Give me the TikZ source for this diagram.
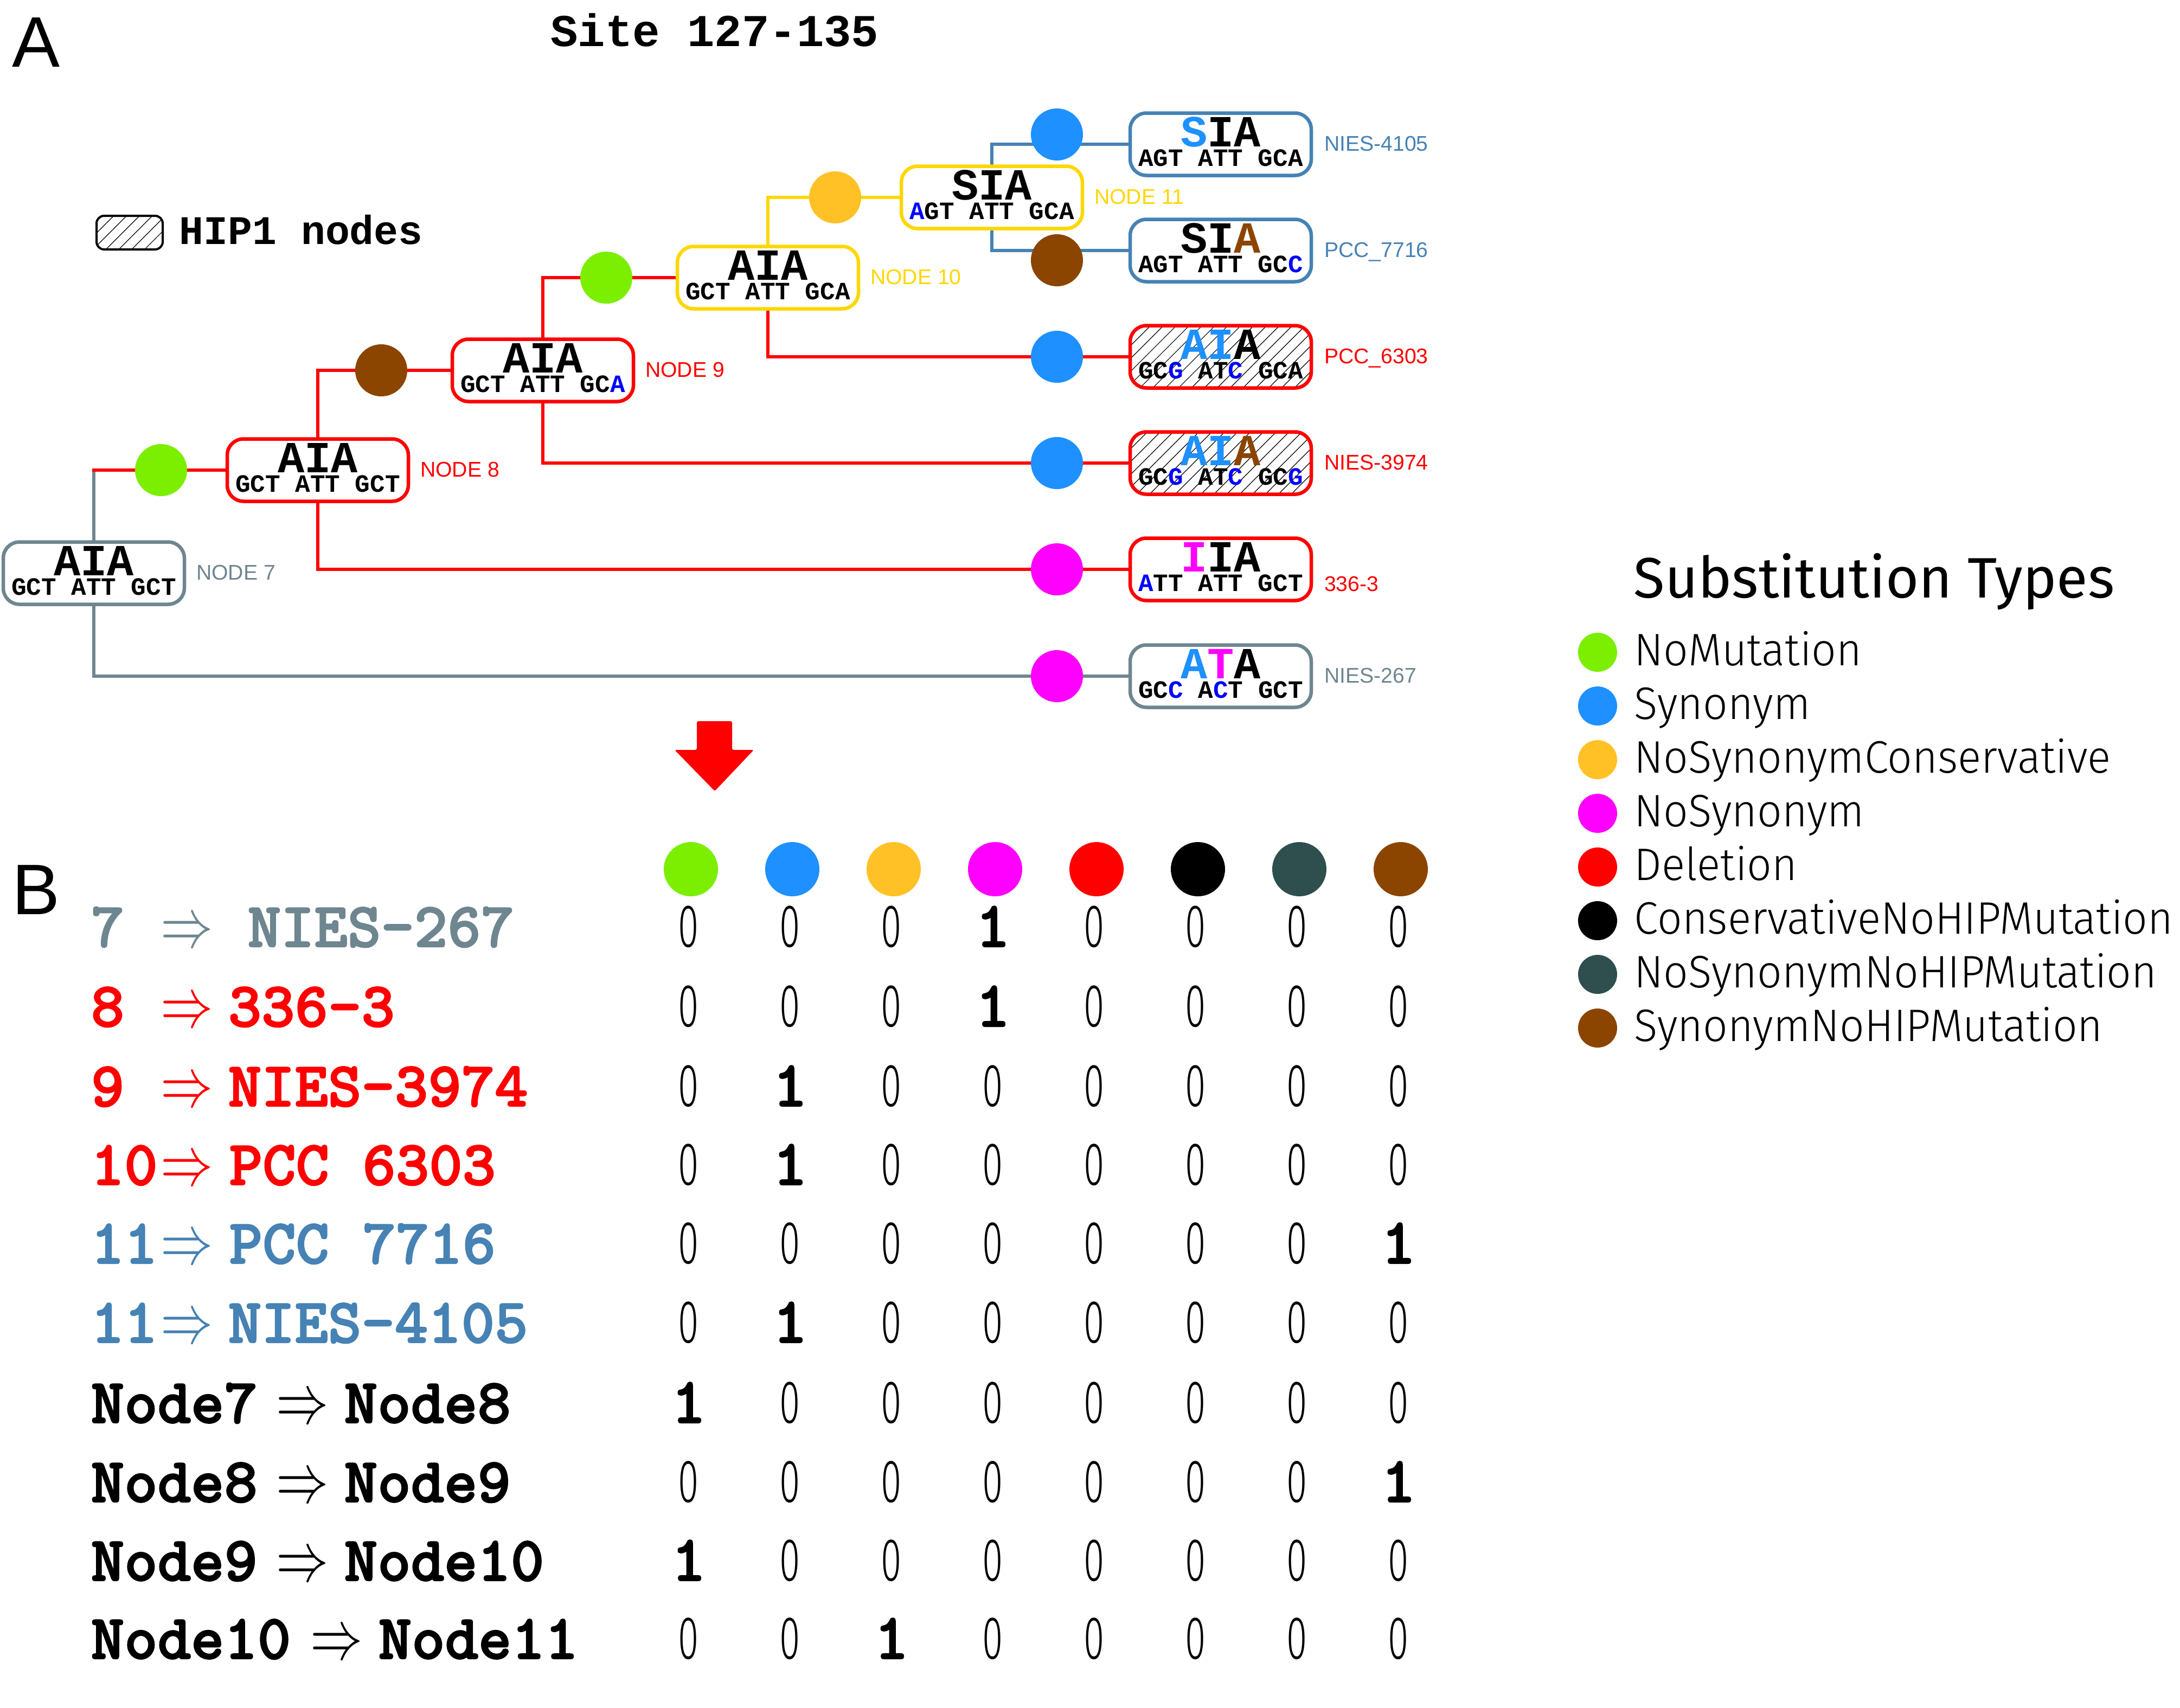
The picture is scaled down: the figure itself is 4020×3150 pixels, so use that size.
\documentclass[tikz,border=0pt]{standalone}
\usepackage{fontspec}
\usetikzlibrary{patterns.meta,calc}
\newlength\px \setlength\px{0.25pt}
\newfontfamily\seqfont{Liberation Mono}
\newfontfamily\lmtb{lmmonolt10-bold.otf}[FakeBold=2]
\newfontfamily\labfont{Liberation Sans}
\newfontfamily\legfont{Fira Sans}
\IfFontExistsTF{Fira Sans Light}{%
  \newfontfamily\lightfont{Fira Sans Light}[FakeStretch=0.955]%
  \newfontfamily\zerofont{Fira Sans Light}[FakeStretch=0.62]}{%
  \newfontfamily\lightfont{Fira Sans}[FakeStretch=0.955]%
  \newfontfamily\zerofont{Fira Sans}[FakeStretch=0.62]}
\definecolor{cgreen}{HTML}{7CEE00}
\definecolor{cblue}{HTML}{1E90FF}
\definecolor{corange}{HTML}{FFC125}
\definecolor{cmag}{HTML}{FF00FF}
\definecolor{cred}{HTML}{FF0000}
\definecolor{cdslate}{HTML}{2F4F4F}
\definecolor{cbrown}{HTML}{8B4500}
\definecolor{cgray}{HTML}{6E868F}
\definecolor{cgold}{HTML}{FFD700}
\definecolor{csteel}{HTML}{4682B4}
\definecolor{cpblue}{HTML}{0000FF}
\newcommand\topsz{\fontsize{20.5pt}{24pt}\selectfont}
\newcommand\codsz{\fontsize{11.5pt}{13pt}\selectfont}
\newcommand\pb[1]{\textcolor{cpblue}{#1}}
\newcommand\db[1]{\textcolor{cblue}{#1}}
\newcommand\cellval[1]{\ifnum#1=1 {\lmtb\fontsize{30pt}{32pt}\selectfont 1}\else{\zerofont\fontsize{28pt}{30pt}\selectfont 0}\fi}
\pgfdeclarelayer{bg}
\pgfsetlayers{bg,main}
\tikzset{
  seqbox/.style={draw, line width=6.5\px, rounded corners=30\px, minimum width=334\px, minimum height=115\px, inner sep=0pt},
  whitebox/.style={fill=white},
  hatched/.style={pattern={Lines[angle=45,distance=4.2pt,line width=0.3pt]}},
  toptxt/.style={anchor=base, inner sep=0pt, text depth=0pt, text height=11.5pt, font=\seqfont\bfseries\topsz},
  codtxt/.style={anchor=base, inner sep=0pt, text depth=0pt, text height=6pt, font=\seqfont\bfseries\codsz},
  nodelab/.style={anchor=base west, inner sep=0pt, font=\labfont\fontsize{9.8pt}{11pt}\selectfont},
  dot/.style={circle, inner sep=0pt, minimum size=96\px},
  branch/.style={line width=6.5\px, line cap=rect},
  rowlab/.style={anchor=base west, inner sep=0pt, font=\lmtb\fontsize{29.25pt}{31pt}\selectfont},
  rowarr/.style={anchor=base west, inner sep=0pt, font=\fontsize{24pt}{26pt}\selectfont},
  cell/.style={anchor=base, inner sep=0pt},
  legitem/.style={anchor=base west, inner sep=0pt, font=\lightfont\fontsize{21pt}{23pt}\selectfont},
  panel/.style={anchor=base west, inner sep=0pt, font=\labfont\fontsize{33pt}{36pt}\selectfont},
}
\newcommand\treebox[6]{%
  \node[seqbox,#4] (#1) at (#2,#3) {};
  \node[toptxt] (#1t) at ($(#1.center)+(0,4)$) {#5};
  \node[codtxt] (#1c) at ($(#1.center)+(0,40)$) {#6};
}
\begin{document}
\begin{tikzpicture}[x=0.25pt,y=-0.25pt]
\useasboundingbox (0,0) rectangle (4020,3150);
% ---------- panel A ----------
\node[panel] (panelA) at (22,123) {A};
\node[anchor=base, inner sep=0pt, font=\seqfont\bfseries\fontsize{21pt}{23pt}\selectfont] (site) at (1318,85) {Site 127-135};
\node[draw, line width=4\px, rounded corners=14\px, minimum width=122\px, minimum height=62\px, inner sep=0pt, hatched] (hipkey) at (239,429) {};
\node[anchor=base west, inner sep=0pt, font=\seqfont\bfseries\fontsize{18.7pt}{20pt}\selectfont] (hiptxt) at (330,450) {HIP1 nodes};

% tree boxes
\treebox{n7}{173}{1057}{draw=cgray,whitebox}{AIA}{GCT ATT GCT}
\treebox{n8}{586}{867}{draw=cred,whitebox}{AIA}{GCT ATT GCT}
\treebox{n9}{1001}{683}{draw=cred,whitebox}{AIA}{GCT ATT GC\pb{A}}
\treebox{n10}{1416}{512}{draw=cgold,whitebox}{AIA}{GCT ATT GCA}
\treebox{n11}{1829}{364}{draw=cgold,whitebox}{SIA}{\pb{A}GT ATT GCA}
\treebox{l4105}{2251}{266}{draw=csteel,whitebox}{\db{S}IA}{AGT ATT GCA}
\treebox{l7716}{2251}{462}{draw=csteel,whitebox}{SI\textcolor{cbrown}{A}}{AGT ATT GC\pb{C}}
\treebox{l6303}{2251}{658}{draw=cred,hatched}{\db{AI}A}{GC\pb{G} AT\pb{C} GCA}
\treebox{l3974}{2251}{854}{draw=cred,hatched}{\db{AI}\textcolor{cbrown}{A}}{GC\pb{G} AT\pb{C} GC\pb{G}}
\treebox{l3363}{2251}{1050}{draw=cred,whitebox}{\textcolor{cmag}{I}IA}{\pb{A}TT ATT GCT}
\treebox{l267}{2251}{1247}{draw=cgray,whitebox}{\db{A}\textcolor{cmag}{T}A}{GC\pb{C} A\pb{C}T GCT}

% node labels
\node[nodelab, text=cgray] (lab7) at ($(n7.east)+(18,12)$) {NODE 7};
\node[nodelab, text=cred] (lab8) at ($(n8.east)+(18,12)$) {NODE 8};
\node[nodelab, text=cred] (lab9) at ($(n9.east)+(18,12)$) {NODE 9};
\node[nodelab, text=cgold] (lab10) at ($(n10.east)+(18,12)$) {NODE 10};
\node[nodelab, text=cgold] (lab11) at ($(n11.east)+(18,12)$) {NODE 11};
\node[nodelab, text=csteel] (labl4105) at ($(l4105.east)+(20,12)$) {NIES-4105};
\node[nodelab, text=csteel] (labl7716) at ($(l7716.east)+(20,12)$) {PCC\_7716};
\node[nodelab, text=cred] (labl6303) at ($(l6303.east)+(20,12)$) {PCC\_6303};
\node[nodelab, text=cred] (labl3974) at ($(l3974.east)+(20,12)$) {NIES-3974};
\node[nodelab, text=cred] (labl3363) at ($(l3363.east)+(20,40)$) {336-3};
\node[nodelab, text=cgray] (labl267) at ($(l267.east)+(20,12)$) {NIES-267};

% branches
\begin{pgfonlayer}{bg}
\draw[branch, cgray] (n7.north) -- (n7.north |- n8.west);
\draw[branch, cred] (n7.north |- n8.west) -- (n8.west);
\draw[branch, cgray] (n7.south) |- (l267.west);
\draw[branch, cred] (n8.north) |- (n9.west);
\draw[branch, cred] (n8.south) |- (l3363.west);
\draw[branch, cred] (n9.north) |- (n10.west);
\draw[branch, cred] (n9.south) |- (l3974.west);
\draw[branch, cgold] (n10.north) |- (n11.west);
\draw[branch, cred] (n10.south) |- (l6303.west);
\draw[branch, csteel] (n11.north) |- (l4105.west);
\draw[branch, csteel] (n11.south) |- (l7716.west);
\end{pgfonlayer}

% substitution dots on branches
\node[dot, fill=cgreen] (d78) at (297,867) {};
\node[dot, fill=cbrown] (d89) at (703,683) {};
\node[dot, fill=cgreen] (d910) at (1118,512) {};
\node[dot, fill=corange] (d1011) at (1540,364) {};
\node[dot, fill=cblue] (d4105) at (1949,248) {};
\node[dot, fill=cbrown] (d7716) at (1949,480) {};
\node[dot, fill=cblue] (d6303) at (1949,658) {};
\node[dot, fill=cblue] (d3974) at (1949,854) {};
\node[dot, fill=cmag] (d3363) at (1949,1050) {};
\node[dot, fill=cmag] (d267) at (1949,1247) {};

% red arrow
\fill[cred, rounded corners=3\px] (1285,1330) -- (1350,1330) -- (1350,1383) -- (1390,1383) -- (1318,1459) -- (1244,1383) -- (1285,1383) -- cycle;

% ---------- legend ----------
\node[anchor=base west, inner sep=0pt, font=\legfont\fontsize{26.3pt}{28pt}\selectfont] (legtitle) at (3012,1102) {Substitution Types};
\foreach \c/\nm [count=\i from 0] in {cgreen/NoMutation, cblue/Synonym, corange/NoSynonymConservative, cmag/NoSynonym, cred/Deletion, black/ConservativeNoHIPMutation, cdslate/NoSynonymNoHIPMutation, cbrown/SynonymNoHIPMutation}{
  \node[dot, minimum size=72\px, fill=\c] (k\i) at (2946,{1203+99*\i}) {};
  \node[legitem] (kt\i) at (3013,{1227+99*\i}) {\nm};
}

% ---------- panel B ----------
\node[panel] (panelB) at (22,1686) {B};
\foreach \c [count=\i from 0] in {cgreen,cblue,corange,cmag,cred,black,cdslate,cbrown}{
  \node[dot, minimum size=100\px, fill=\c] (h\i) at ({1274+187*\i},1603) {};
}
\foreach \r/\yy/\col/\num/\ax/\nm/\nx in {
 1/1746/cgray/7/296/NIES-267/456,
 2/1893/cred/8/296/336-3/420,
 3/2040/cred/9/296/NIES-3974/420,
 4/2185/cred/10/296/PCC 6303/422,
 5/2330/csteel/11/296/PCC 7716/422,
 6/2476/csteel/11/296/NIES-4105/420,
 7/2624/black/Node7/509/Node8/634,
 8/2770/black/Node8/509/Node9/634,
 9/2915/black/Node9/509/Node10/634,
 10/3059/black/Node10/572/Node11/697}{
  \node[rowlab, text=\col] (ra\r) at (167,\yy) {\num};
  \node[rowarr, text=\col] (rb\r) at (\ax,\yy) {\scalebox{0.97}[1.3]{$\Rightarrow$}};
  \node[rowlab, text=\col] (rc\r) at (\nx,\yy) {\nm};
}
\foreach \vals/\yy [count=\r] in {
 {0,0,0,1,0,0,0,0}/1746,
 {0,0,0,1,0,0,0,0}/1893,
 {0,1,0,0,0,0,0,0}/2040,
 {0,1,0,0,0,0,0,0}/2185,
 {0,0,0,0,0,0,0,1}/2330,
 {0,1,0,0,0,0,0,0}/2476,
 {1,0,0,0,0,0,0,0}/2624,
 {0,0,0,0,0,0,0,1}/2770,
 {1,0,0,0,0,0,0,0}/2915,
 {0,0,1,0,0,0,0,0}/3059}{
  \foreach \v [count=\j from 0] in \vals {
    \node[cell] (m\r-\j) at ({1270+187*\j},\yy) {\cellval{\v}};
  }
}
\end{tikzpicture}
\end{document}
